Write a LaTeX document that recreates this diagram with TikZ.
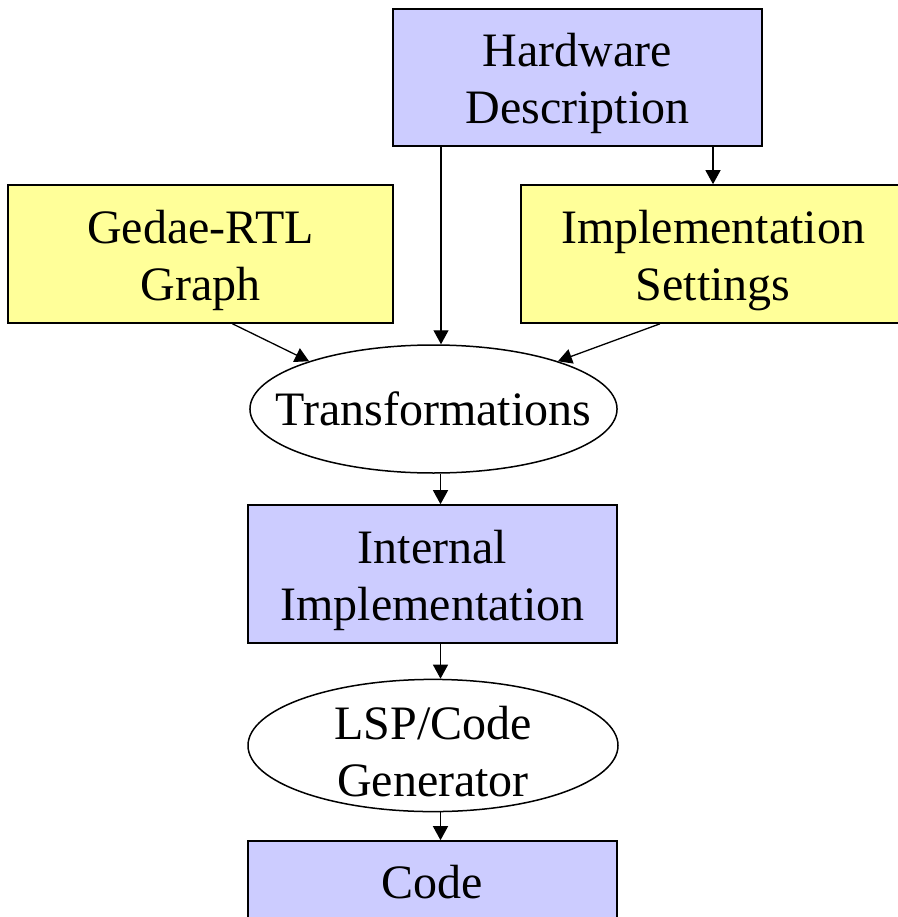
\documentclass[tikz,border=0pt]{standalone}
\usepackage{fontspec}
\setmainfont{Liberation Serif}
\usetikzlibrary{shapes.geometric, arrows.meta}

\definecolor{boxblue}{HTML}{CCCCFF}
\definecolor{boxyellow}{HTML}{FFFF99}
\newcommand{\tallstrut}{\rule{0pt}{46pt}}

\begin{document}
\begin{tikzpicture}[x=1pt, y=-1pt,
    font=\fontsize{48}{57}\selectfont,
    blockbox/.style={rectangle, draw=black, line width=1.6pt, align=center, inner sep=0pt},
    ovalbox/.style={ellipse, draw=black, line width=1.5pt, fill=white, align=center, inner sep=0pt},
    arr/.style={line width=1.3pt, -{Triangle[length=14pt, width=15pt]}}]
    % Invisible bounding box for the page size
    \path[use as bounding box] (0,0) rectangle (897,917);

    \node[blockbox, fill=boxblue, minimum width=369pt, minimum height=137pt] (hw) at (577.5,77.5) {\tallstrut Hardware\\Description};
    \node[blockbox, fill=boxyellow, minimum width=385pt, minimum height=138pt] (gedae) at (200.5,254) {\tallstrut Gedae-RTL\\Graph};
    \node[blockbox, fill=boxyellow, minimum width=384pt, minimum height=138pt] (impl) at (713,254) {\tallstrut Implementation\\Settings};
    \node[ovalbox, inner xsep=-28pt, minimum width=367pt, minimum height=128pt] (trans) at (433.5,409) {Transformations};
    \node[blockbox, fill=boxblue, minimum width=369pt, minimum height=138pt] (internal) at (432.5,574) {\tallstrut Internal\\Implementation};
    \node[ovalbox, inner ysep=-5pt, minimum width=370pt, minimum height=129pt] (lsp) at (433,745.5) {\tallstrut LSP/Code\\Generator};
    \node[blockbox, fill=boxblue, minimum width=369pt, minimum height=82pt] (code) at (432.5,882) {Code};

    \draw[arr] ([xshift=7.5pt]trans.north |- hw.south) -- ([xshift=7.5pt]trans.north);
    \draw[arr] (hw.south -| impl.north) -- (impl.north);
    \draw[arr] ([xshift=32pt]gedae.south) -- (trans.159);
    \draw[arr] ([xshift=-53pt]impl.south) -- (trans.21);
    \draw[arr] ([xshift=8pt]internal.north |- trans.south) -- ([xshift=8pt]internal.north);
    \draw[arr] ([xshift=8pt]internal.south) -- ([xshift=8pt]internal.south |- lsp.north);
    \draw[arr] ([xshift=8pt]code.north |- lsp.south) -- ([xshift=8pt]code.north);
\end{tikzpicture}
\end{document}
